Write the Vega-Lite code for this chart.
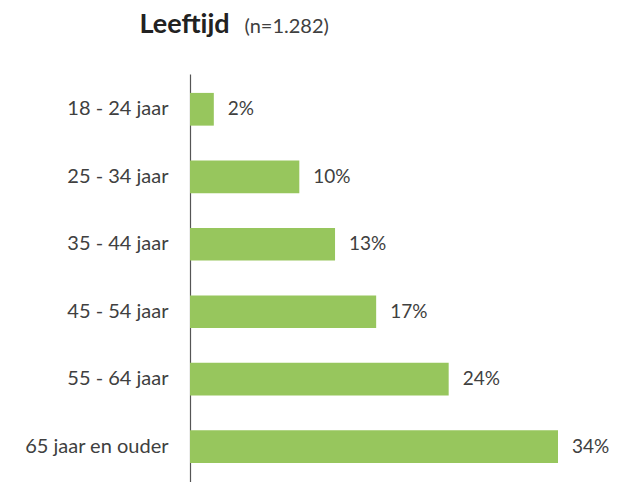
{
  "$schema": "https://vega.github.io/schema/vega-lite/v6.json",
  "width": 368,
  "height": 408,
  "autosize": {"type": "none"},
  "padding": {"left": 190, "top": 74, "right": 60, "bottom": 0},
  "background": "white",
  "config": {"view": {"stroke": null}, "font": "Lato"},
  "data": {"values": [
    {"leeftijd": "18 - 24 jaar", "pct": 0.022},
    {"leeftijd": "25 - 34 jaar", "pct": 0.101},
    {"leeftijd": "35 - 44 jaar", "pct": 0.134},
    {"leeftijd": "45 - 54 jaar", "pct": 0.172},
    {"leeftijd": "55 - 64 jaar", "pct": 0.239},
    {"leeftijd": "65 jaar en ouder", "pct": 0.34}
  ]},
  "encoding": {
    "y": {
      "field": "leeftijd", "type": "nominal", "sort": null,
      "scale": {"paddingInner": 0.515, "paddingOuter": 0.28},
      "axis": {
        "title": "Leeftijd", "titleAngle": 0, "titleX": -51, "titleY": -42,
        "titleAlign": "left", "titleBaseline": "alphabetic",
        "titleFontSize": 27, "titleFontWeight": "bold", "titleColor": "#222222",
        "ticks": false, "labelPadding": 22, "labelFontSize": 20, "labelColor": "#404040",
        "domainColor": "#555555", "domainWidth": 1.2, "grid": false
      }
    },
    "x": {
      "field": "pct", "type": "quantitative",
      "scale": {"domain": [0, 0.34], "nice": false},
      "axis": {
        "orient": "top", "domain": false, "ticks": false, "labels": false, "grid": false,
        "title": "(n=1.282)", "titleX": 54, "titleY": -42, "titleAlign": "left",
        "titleBaseline": "alphabetic", "titleFontSize": 20, "titleFontWeight": "normal",
        "titleColor": "#404040"
      }
    }
  },
  "layer": [
    {"mark": {"type": "bar", "color": "#97C65D"}},
    {
      "mark": {"type": "text", "align": "left", "dx": 14, "fontSize": 19, "color": "#404040"},
      "encoding": {"text": {"field": "pct", "type": "quantitative", "format": ".0%"}}
    }
  ]
}
